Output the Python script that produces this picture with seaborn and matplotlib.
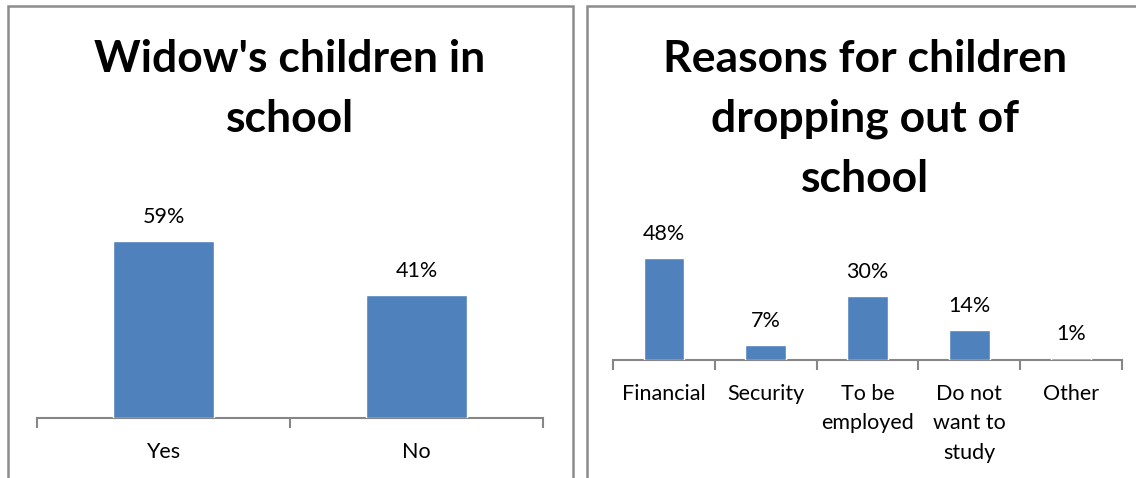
import seaborn as sns
import matplotlib.pyplot as plt
import pandas as pd
from matplotlib.patches import Rectangle

school_labels = ['Yes', 'No']
school_values = [59, 41]

reason_labels = ['Financial', 'Security', 'To be\nemployed', 'Do not\nwant to\nstudy', 'Other']
reason_values = [48, 7, 30, 14, 1]

BLUE = '#4F81BD'
GRAY = '#868686'
W, H = 1136, 478

sns.set_theme(style='white')
plt.rcParams['font.family'] = ['Lato', 'DejaVu Sans']
plt.rcParams['text.color'] = 'black'
plt.rcParams['xtick.color'] = 'black'


def px_axes(fig, left, top, right, bottom):
    return fig.add_axes([left / W, 1 - bottom / H, (right - left) / W, (bottom - top) / H])


def bar_panel(ax, labels, values, ymax, label_pad):
    df = pd.DataFrame({'cat': labels, 'val': values})
    sns.barplot(data=df, x='cat', y='val', color=BLUE, saturation=1, width=0.4, ax=ax, zorder=3)
    n = len(labels)
    ax.set_xlim(-0.5, n - 0.5)
    ax.set_ylim(0, ymax)
    ax.set_xlabel('')
    ax.set_ylabel('')
    ax.set_yticks([])
    for s in ['top', 'right', 'left']:
        ax.spines[s].set_visible(False)
    ax.spines['bottom'].set_color(GRAY)
    ax.spines['bottom'].set_linewidth(1.5)
    ax.set_xticks(range(n))
    ax.set_xticklabels(labels, fontsize=15.5, linespacing=1.6, va='top', color='black')
    ax.set_xticks([i - 0.5 for i in range(n + 1)], minor=True)
    ax.tick_params(axis='x', which='major', length=0, pad=label_pad)
    ax.tick_params(axis='x', which='minor', length=7, width=1.5, color=GRAY, direction='out', bottom=True)
    ax.patch.set_alpha(0)
    for p, v in zip(ax.patches, values):
        ax.annotate(f'{v}%', (p.get_x() + p.get_width() / 2, p.get_height()),
                    xytext=(0, 10), textcoords='offset points',
                    ha='center', va='bottom', fontsize=15.5)


fig = plt.figure(figsize=(W / 100, H / 100), dpi=100)

# panel borders
fig.patches.append(Rectangle((8 / W, -0.1), (573 - 8) / W, 1.1 - 6 / H, transform=fig.transFigure,
                             fill=False, edgecolor='#8c8c8c', linewidth=1.8))
fig.patches.append(Rectangle((587 / W, -0.1), 0.6, 1.1 - 6 / H, transform=fig.transFigure,
                             fill=False, edgecolor='#8c8c8c', linewidth=1.8))

ax1 = px_axes(fig, 37, 208, 543, 418)
bar_panel(ax1, school_labels, school_values, 70, 17)

ax2 = px_axes(fig, 613, 232, 1122, 360)
bar_panel(ax2, reason_labels, reason_values, 60, 17)

fig.text(290 / W, 1 - 39 / H, "Widow's children in\nschool", ha='center', va='top',
         fontsize=32, fontweight='bold', linespacing=1.6)
fig.text(865 / W, 1 - 39 / H, 'Reasons for children\ndropping out of\nschool', ha='center', va='top',
         fontsize=32, fontweight='bold', linespacing=1.6)

plt.savefig('out.png', dpi=100)
